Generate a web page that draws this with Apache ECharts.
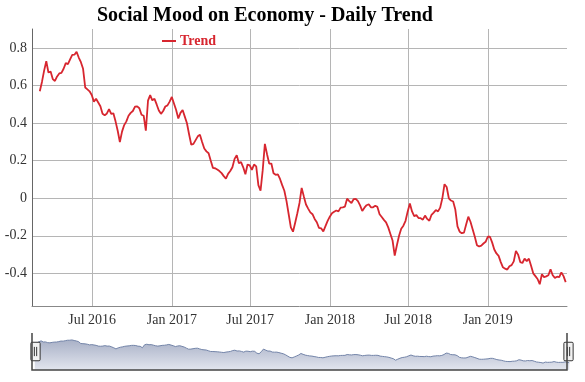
<!DOCTYPE html>
<html>
<head>
<meta charset="utf-8">
<script src="https://cdn.jsdelivr.net/npm/echarts@6/dist/echarts.min.js"></script>
<style>
html,body{margin:0;padding:0;background:#fff;}
#chart{width:585px;height:382px;}
</style>
</head>
<body>
<div id="chart"></div>
<script>
const chartTitle = 'Social Mood on Economy - Daily Trend';
const seriesName = 'Trend';
const startDate = '2016-03-02';
const stepDays = 5;
const trendValues = [
  0.57, 0.62, 0.68, 0.73, 0.67, 0.675, 0.635, 0.625, 0.649, 0.665,
  0.668, 0.69, 0.72, 0.715, 0.74, 0.764, 0.765, 0.78, 0.75, 0.725,
  0.69, 0.59, 0.58, 0.57, 0.55, 0.515, 0.53, 0.51, 0.49, 0.45,
  0.442, 0.452, 0.475, 0.45, 0.453, 0.41, 0.36, 0.30, 0.355, 0.39,
  0.41, 0.44, 0.455, 0.465, 0.488, 0.49, 0.48, 0.445, 0.44, 0.36,
  0.52, 0.55, 0.522, 0.53, 0.50, 0.468, 0.45, 0.465, 0.489, 0.495,
  0.515, 0.54, 0.505, 0.47, 0.425, 0.455, 0.47, 0.435, 0.40, 0.34,
  0.285, 0.29, 0.31, 0.33, 0.338, 0.30, 0.265, 0.25, 0.24, 0.20,
  0.162, 0.16, 0.153, 0.145, 0.134, 0.118, 0.105, 0.13, 0.145, 0.165,
  0.21, 0.23, 0.187, 0.193, 0.165, 0.128, 0.18, 0.175, 0.151, 0.18,
  0.17, 0.07, 0.04, 0.15, 0.29, 0.235, 0.185, 0.185, 0.133, 0.125,
  0.128, 0.103, 0.07, 0.04, -0.015, -0.085, -0.155, -0.178, -0.13, -0.08,
  -0.025, 0.055, 0.01, -0.033, -0.055, -0.075, -0.085, -0.11, -0.128, -0.158,
  -0.16, -0.177, -0.148, -0.12, -0.098, -0.08, -0.072, -0.065, -0.07, -0.05,
  -0.048, -0.044, -0.002, -0.015, -0.025, -0.005, -0.003, -0.015, -0.038, -0.068,
  -0.05, -0.037, -0.032, -0.048, -0.048, -0.04, -0.046, -0.085, -0.10, -0.115,
  -0.128, -0.155, -0.19, -0.225, -0.305, -0.25, -0.20, -0.162, -0.146, -0.12,
  -0.07, -0.028, -0.07, -0.095, -0.09, -0.105, -0.106, -0.114, -0.092, -0.11,
  -0.12, -0.088, -0.076, -0.063, -0.07, -0.05, 0.0, 0.075, 0.06, 0.0,
  -0.012, -0.017, -0.06, -0.15, -0.178, -0.186, -0.183, -0.14, -0.098, -0.125,
  -0.165, -0.205, -0.25, -0.257, -0.252, -0.241, -0.232, -0.205, -0.205, -0.235,
  -0.273, -0.294, -0.307, -0.34, -0.368, -0.375, -0.38, -0.362, -0.356, -0.336,
  -0.28, -0.30, -0.34, -0.345, -0.322, -0.335, -0.322, -0.36, -0.40, -0.415,
  -0.43, -0.458, -0.405, -0.42, -0.416, -0.41, -0.378, -0.41, -0.424, -0.418,
  -0.42, -0.395, -0.415, -0.447
];
const xAxisStart = '2016-02-13';
const xAxisEnd = '2019-07-03';
const xTickDates = ['2016-07-01', '2017-01-01', '2017-07-01', '2018-01-01', '2018-07-01', '2019-01-01'];
const yTickValues = [-0.4, -0.2, 0, 0.2, 0.4, 0.6, 0.8];
const monthNames = ['Jan','Feb','Mar','Apr','May','Jun','Jul','Aug','Sep','Oct','Nov','Dec'];

function toUTC(s) {
  const p = s.split('-').map(Number);
  return Date.UTC(p[0], p[1] - 1, p[2]);
}
const startUTC = toUTC(startDate);
const seriesData = trendValues.map(function (v, i) {
  return [startUTC + i * stepDays * 86400000, v];
});
const xTickValues = xTickDates.map(toUTC);

const chart = echarts.init(document.getElementById('chart'), null, {renderer: 'canvas'});
const serif = '"Liberation Serif", "Times New Roman", serif';
const red = '#d7262f';
const shadowArea = {type: 'linear', x: 0, y: 0, x2: 0, y2: 1,
  colorStops: [{offset: 0, color: '#e2e5ee'}, {offset: 1, color: '#a9b1c7'}]};

chart.setOption({
  animation: false,
  backgroundColor: '#fff',
  title: {
    text: chartTitle,
    left: 92,
    top: 1,
    textStyle: {fontFamily: serif, fontWeight: 'bold', fontSize: 20, color: '#000'}
  },
  legend: {
    left: 157,
    top: 29,
    icon: 'rect',
    itemWidth: 14,
    itemHeight: 2,
    itemGap: 4,
    textStyle: {fontFamily: serif, fontWeight: 'bold', fontSize: 14, color: red, padding: [0, 0, 0, -1]},
    data: [seriesName]
  },
  grid: {left: 32, right: 18, top: 29, bottom: 76, containLabel: false},
  xAxis: {
    type: 'value',
    min: toUTC(xAxisStart),
    max: toUTC(xAxisEnd),
    axisLine: {show: true, onZero: false, lineStyle: {color: '#888', width: 1}},
    axisTick: {show: false, customValues: xTickValues},
    axisLabel: {
      customValues: xTickValues,
      fontFamily: serif, fontSize: 14, color: '#333', margin: 7,
      formatter: function (val) {
        const d = new Date(val);
        return monthNames[d.getUTCMonth()] + ' ' + d.getUTCFullYear();
      }
    },
    splitLine: {show: true, lineStyle: {color: '#b5b5b5', width: 1}}
  },
  yAxis: {
    type: 'value',
    min: -0.574,
    max: 0.902,
    axisLine: {show: true, lineStyle: {color: '#666', width: 1}},
    axisTick: {show: false, customValues: yTickValues},
    axisLabel: {
      customValues: yTickValues,
      fontFamily: serif, fontSize: 14, color: '#333', margin: 5,
      formatter: function (v) { return String(Math.round(v * 10) / 10); }
    },
    splitLine: {show: true, lineStyle: {color: '#b5b5b5', width: 1}}
  },
  dataZoom: [{
    type: 'slider',
    xAxisIndex: 0,
    filterMode: 'none',
    left: 32,
    right: 18,
    top: 333,
    height: 37,
    start: 0,
    end: 100,
    brushSelect: false,
    showDetail: false,
    moveHandleSize: 0,
    borderColor: 'transparent',
    backgroundColor: 'transparent',
    fillerColor: 'rgba(0,0,0,0)',
    handleIcon: 'path://M1,0H7A1,1,0,0,1,8,1V15A1,1,0,0,1,7,16H1A1,1,0,0,1,0,15V1A1,1,0,0,1,1,0Z M3,4V12 M5,4V12',
    handleSize: '50%',
    handleStyle: {color: '#f2f2f2', borderColor: '#333', borderWidth: 1},
    emphasis: {handleStyle: {color: '#f2f2f2', borderColor: '#333', borderWidth: 1}},
    dataBackground: {
      lineStyle: {color: '#7384a8', width: 1, opacity: 1},
      areaStyle: {opacity: 1, color: shadowArea}
    },
    selectedDataBackground: {
      lineStyle: {color: '#7384a8', width: 1, opacity: 1},
      areaStyle: {opacity: 1, color: shadowArea}
    }
  }],
  graphic: [{
    type: 'polyline',
    silent: true,
    z: 100,
    shape: {points: [[32, 333], [32, 370], [567, 370], [567, 333]]},
    style: {stroke: '#444', lineWidth: 1.5, fill: null}
  }],
  series: [{
    name: seriesName,
    type: 'line',
    data: seriesData,
    showSymbol: false,
    symbol: 'none',
    color: red,
    lineStyle: {color: red, width: 1.8},
    itemStyle: {color: red}
  }]
});
</script>
</body>
</html>
